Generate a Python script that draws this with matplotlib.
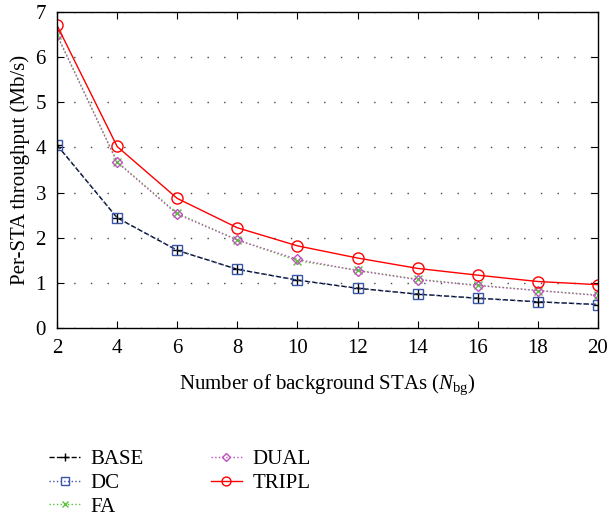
import matplotlib
matplotlib.use("Agg")
import matplotlib.pyplot as plt

plt.rcParams['font.family'] = ['Liberation Serif', 'DejaVu Serif']
plt.rcParams['mathtext.fontset'] = 'custom'
plt.rcParams['mathtext.rm'] = 'Liberation Serif'
plt.rcParams['mathtext.it'] = 'Liberation Serif:italic'

n_bg = [2, 4, 6, 8, 10, 12, 14, 16, 18, 20]
base = [4.05, 2.44, 1.72, 1.30, 1.06, 0.88, 0.75, 0.66, 0.58, 0.52]
dc = [4.06, 2.44, 1.72, 1.30, 1.06, 0.88, 0.75, 0.66, 0.58, 0.52]
fa = [6.5, 3.68, 2.54, 1.95, 1.49, 1.28, 1.08, 0.95, 0.83, 0.73]
dual = [6.48, 3.67, 2.52, 1.95, 1.52, 1.27, 1.07, 0.94, 0.83, 0.72]
tripl = [6.7, 4.02, 2.87, 2.22, 1.82, 1.55, 1.32, 1.17, 1.03, 0.96]

fig = plt.figure(figsize=(6.07, 5.19), dpi=100)
ax = fig.add_axes([0.094, 0.368, 0.891, 0.609])

ax.plot(n_bg, base, '--', color='black', marker='+', markersize=7, lw=1, label='BASE')
ax.plot(n_bg, dc, ':', color='#3a56a8', marker='s', markersize=7, mfc='none', lw=1, label='DC')
ax.plot(n_bg, fa, ':', color='#5cc43c', marker='x', markersize=6, lw=1, label='FA')
ax.plot(n_bg, dual, ':', color='#c050c0', marker='D', markersize=5, mfc='none', lw=1, label='DUAL')
ax.plot(n_bg, tripl, '-', color='red', marker='o', markersize=8, mfc='none', lw=1, label='TRIPL')

ax.set_xlim(2, 20)
ax.set_ylim(0, 7)
ax.set_xticks(n_bg)
ax.set_yticks(range(8))
ax.tick_params(direction='in', top=True, right=True, labelsize=15, length=5, pad=8)
ax.yaxis.grid(True, linestyle=(0, (1, 11)), color='#444444', lw=1)
for s in ax.spines.values():
    s.set_linewidth(1)

ax.set_xlabel(r'Number of background STAs ($N_{\mathrm{bg}}$)', fontsize=15, labelpad=10)
ax.set_ylabel('Per-STA throughput (Mb/s)', fontsize=15, labelpad=4)

fig.legend(loc='upper left', bbox_to_anchor=(0.05, 0.17), ncol=2, frameon=False,
           fontsize=15, handlelength=1.5, handletextpad=0.5, columnspacing=3.2,
           labelspacing=0.2, markerscale=0.8, bbox_transform=fig.transFigure)

fig.savefig('out.png', dpi=100)
